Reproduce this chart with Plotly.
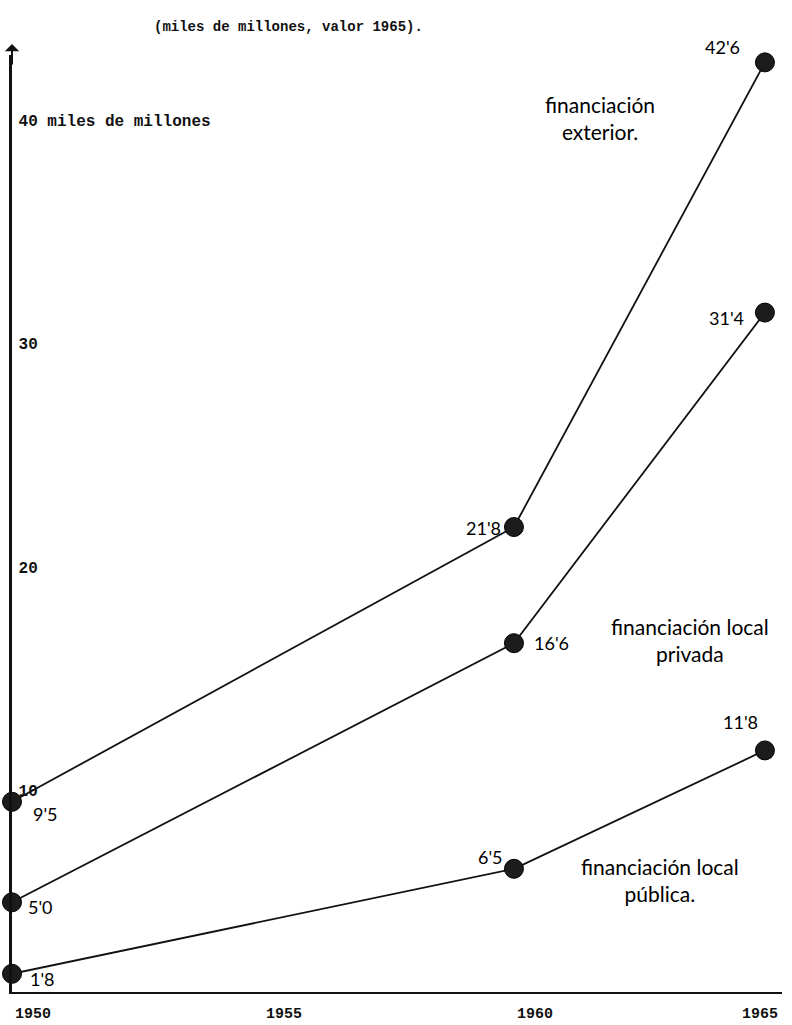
import plotly.graph_objects as go

# ---------------- data ----------------
years = [1950, 1960, 1965]
exterior = [9.5, 21.8, 42.6]
privada = [5.0, 16.6, 31.4]
publica = [1.8, 6.5, 11.8]

series_names = ["financiación<br>exterior.", "financiación local<br>privada", "financiación local<br>pública."]
x_tick_vals = [1950, 1955, 1960, 1965]
x_tick_text = ["1950", "1955", "1960", "1965"]
y_tick_vals = [10, 20, 30, 40]
y_tick_text = ["10", "20", "30", "40 miles de millones"]
subtitle = "(miles de millones, valor 1965)."

# ---------------- layout geometry (page pixels) ----------------
W, H = 792, 1025
L, R, T, B = 12, 10, 55, 33
PW, PH = W - L - R, H - T - B


def px(x):
    return (x - L) / PW


def py(y):
    return 1 - (y - T) / PH


MONO = "Liberation Mono"
HAND = "Lato"
XRANGE = [1950, 1965.34]

fig = go.Figure()
for vals in (exterior, privada, publica):
    fig.add_trace(go.Scatter(
        x=years, y=vals, mode="lines+markers",
        line=dict(color="#111111", width=1.8),
        marker=dict(size=19, color="#1c1c1c", line=dict(color="#000000", width=1)),
        cliponaxis=False, showlegend=False, hoverinfo="skip",
    ))
# empty trace so that the second (label-only) x axis is drawn
fig.add_trace(go.Scatter(x=[], y=[], xaxis="x2", showlegend=False, hoverinfo="skip"))

# value labels (handwritten style)
offsets = {
    "exterior": [(33, 12), (-30, 1), (-42, -15)],
    "privada": [(28, 5), (38, 0), (-38, 5)],
    "publica": [(30, 5), (-23, -12), (-24, -28)],
}
for key, vals in (("exterior", exterior), ("privada", privada), ("publica", publica)):
    for (xv, yv), (dx, dy) in zip(zip(years, vals), offsets[key]):
        fig.add_annotation(
            x=xv, y=yv, xref="x", yref="y", showarrow=False,
            xanchor="center", yanchor="middle",
            text=f"{yv:.1f}".replace(".", "'"), xshift=dx, yshift=-dy,
            font=dict(family=HAND, size=18, color="#000000"),
        )

# series names
name_pos = [(600, 118), (690, 640), (660, 880)]
for name, (nx, ny) in zip(series_names, name_pos):
    fig.add_annotation(
        x=px(nx), y=py(ny), xref="paper", yref="paper", showarrow=False,
        xanchor="center", yanchor="middle",
        text=name, align="center",
        font=dict(family=HAND, size=21, color="#000000"),
    )

# subtitle
fig.add_annotation(
    x=px(288), y=py(27), xref="paper", yref="paper", showarrow=False,
    xanchor="center", yanchor="middle",
    text=subtitle, font=dict(family=MONO, size=14, color="#111111", weight="bold"),
)

# arrow at top of y axis
fig.add_annotation(
    x=1950, y=py(44), xref="x", yref="paper", showarrow=True,
    ax=0, ay=22, axref="pixel", ayref="pixel", text="",
    arrowhead=1, arrowsize=1.2, arrowwidth=2, arrowcolor="#111111",
)

xtickfont = dict(family=MONO, size=15, color="#111111", weight="bold")

fig.update_layout(
    width=W, height=H,
    margin=dict(l=L, r=R, t=T, b=B, autoexpand=False),
    paper_bgcolor="white", plot_bgcolor="white",
    xaxis=dict(
        range=XRANGE, showgrid=False, zeroline=False, automargin=False,
        showline=True, linecolor="#111111", linewidth=2,
        tickmode="array", tickvals=x_tick_vals[:-1], ticktext=x_tick_text[:-1],
        ticks="", ticklabelshift=21, ticklabelstandoff=6,
        ticklabeloverflow="allow", tickfont=xtickfont,
    ),
    xaxis2=dict(
        range=XRANGE, overlaying="x", side="bottom", anchor="y",
        showgrid=False, zeroline=False, automargin=False,
        showline=True, linecolor="#111111", linewidth=2,
        tickmode="array", tickvals=x_tick_vals[-1:], ticktext=x_tick_text[-1:],
        ticks="", ticklabelshift=-5, ticklabelstandoff=6,
        ticklabeloverflow="allow", tickfont=xtickfont,
    ),
    yaxis=dict(
        range=[0.985, 42.93], showgrid=False, zeroline=False, automargin=False,
        showline=True, linecolor="#111111", linewidth=2.5,
        tickmode="array", tickvals=y_tick_vals, ticktext=y_tick_text,
        ticks="", ticklabelposition="inside", ticklabelstandoff=7,
        ticklabeloverflow="allow",
        tickfont=dict(family=MONO, size=16, color="#111111", weight="bold"),
    ),
)

fig.write_html("out.html", config={"displayModeBar": False},
               post_script="document.body.style.margin='0';")
